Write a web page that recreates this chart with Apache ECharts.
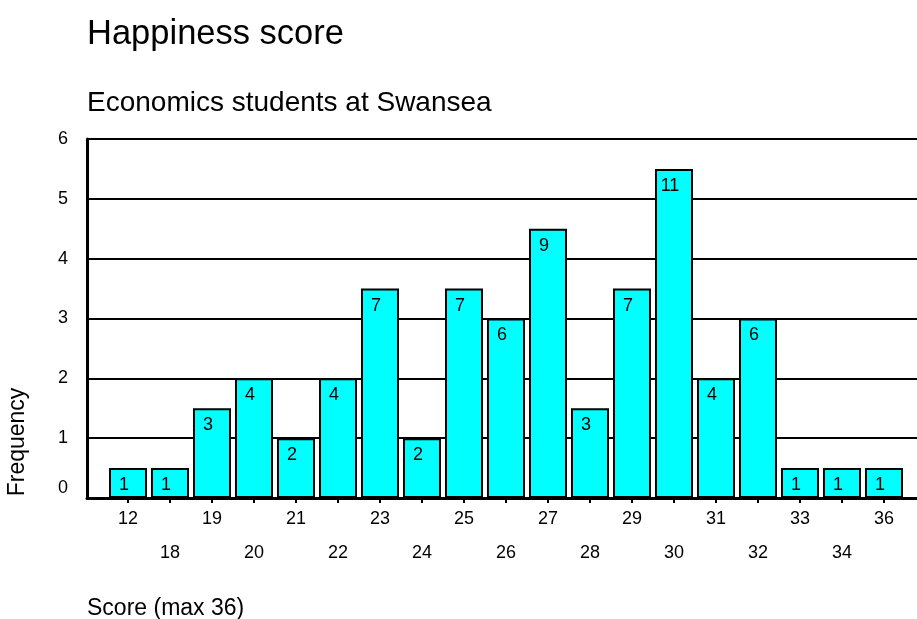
<!DOCTYPE html>
<html>
<head>
<meta charset="utf-8">
<script src="https://cdn.jsdelivr.net/npm/echarts@6/dist/echarts.min.js"></script>
<style>html,body{margin:0;padding:0;background:#fff}#c{width:917px;height:619px}</style>
</head>
<body>
<div id="c"></div>
<script>
// Data
var categories = ['12','18','19','20','21','22','23','24','25','26','27','28','29','30','31','32','33','34','36'];
var barHeights = [0.5,0.5,1.5,2,1,2,3.5,1,3.5,3,4.5,1.5,3.5,5.5,2,3,0.5,0.5,0.5];
var barLabels  = [1,1,3,4,2,4,7,2,7,6,9,3,7,11,4,6,1,1,1];
var yTicks = [0,1,2,3,4,5,6];

var FONT = '"Liberation Sans", Arial, sans-serif';
var idx = categories.map(function(c,i){return i;});

var chart = echarts.init(document.getElementById('c'), null, {renderer:'canvas'});
chart.setOption({
  animation:false,
  backgroundColor:'#fff',
  textStyle:{fontFamily:FONT},
  title:[
    {text:'Happiness score', left:82, top:12, textStyle:{fontFamily:FONT, fontSize:34.5, fontWeight:'normal', color:'#000'}},
    {text:'Economics students at Swansea', left:82, top:84, textStyle:{fontFamily:FONT, fontSize:28, fontWeight:'normal', color:'#000'}},
    {text:'Score (max 36)', left:82, top:592, textStyle:{fontFamily:FONT, fontSize:23, fontWeight:'normal', color:'#000'}}
  ],
  graphic:[
    {type:'text', x:18, y:442, rotation:Math.PI/2,
     style:{text:'Frequency', fontFamily:FONT, fontSize:23, fill:'#000', textAlign:'center', textVerticalAlign:'middle'}}
  ],
  grid:{left:87, right:0, top:139, bottom:121},
  xAxis:{
    type:'value', min:-0.976, max:18.786,
    axisLine:{show:true, onZero:false, lineStyle:{color:'#000', width:3}},
    axisTick:{show:true, customValues:idx, length:5, lineStyle:{color:'#000', width:2}},
    axisLabel:{customValues:idx, fontFamily:FONT, fontSize:18, color:'#000', lineHeight:34, margin:4, verticalAlign:'top',
      formatter:function(v){var i=Math.round(v); return (i%2===1?'\n':'')+categories[i];}},
    splitLine:{show:false}
  },
  yAxis:{
    type:'value', min:yTicks[0], max:yTicks[yTicks.length-1], interval:1,
    axisLine:{show:true, onZero:false, lineStyle:{color:'#000', width:3}},
    axisTick:{show:false},
    axisLabel:{fontFamily:FONT, fontSize:18, color:'#000', margin:19,
      formatter:function(v){return v===0?'{z|0}':String(v);},
      rich:{z:{fontFamily:FONT, fontSize:18, color:'#000', padding:[0,0,20,0]}}},
    splitLine:{show:true, lineStyle:{color:'#000', width:2}}
  },
  series:[{
    type:'bar',
    barWidth:38,
    data:barHeights.map(function(h,i){return [i,h];}),
    itemStyle:{color:'#00FFFF', borderColor:'#000', borderWidth:2},
    label:{show:true, position:'insideTop', distance:8, offset:[-4,0], fontFamily:FONT, fontSize:18, color:'#000',
      formatter:function(p){return String(barLabels[p.dataIndex]);}}
  }]
});
</script>
</body>
</html>
